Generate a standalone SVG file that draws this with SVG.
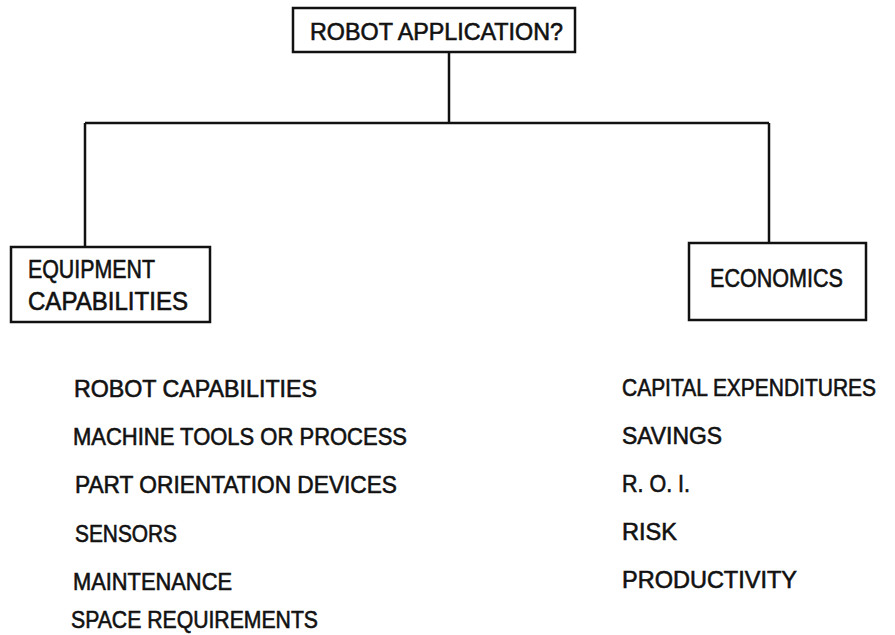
<svg xmlns="http://www.w3.org/2000/svg" width="895" height="635" viewBox="0 0 895 635">
<style>
.box{fill:#fff;stroke:#111;stroke-width:2.5}
.conn{fill:none;stroke:#111;stroke-width:2.5}
text{font-family:"Liberation Sans","DejaVu Sans",sans-serif;fill:#111;stroke:#111;stroke-width:0.6;font-size:24px}
.lbl{font-size:25px}
</style>
<rect width="895" height="635" fill="#fff"/>
<g id="connectors">
<path class="conn" d="M449,52 V123 M85,123 H769 M85,123 V247 M769,123 V243"/>
</g>
<g id="node-robot-application">
<rect class="box" x="293" y="8" width="282" height="44"/>
<text x="310" y="40" textLength="253" lengthAdjust="spacingAndGlyphs">ROBOT APPLICATION?</text>
</g>
<g id="node-equipment">
<rect class="box" x="11" y="247" width="199" height="75"/>
<text class="lbl" x="28" y="278" textLength="127" lengthAdjust="spacingAndGlyphs">EQUIPMENT</text>
<text class="lbl" x="28" y="310" textLength="160" lengthAdjust="spacingAndGlyphs">CAPABILITIES</text>
</g>
<g id="node-economics">
<rect class="box" x="689" y="243" width="177" height="77"/>
<text class="lbl" x="710" y="287" textLength="133" lengthAdjust="spacingAndGlyphs">ECONOMICS</text>
</g>
<g id="equipment-list">
<text x="74" y="397" textLength="243" lengthAdjust="spacingAndGlyphs">ROBOT CAPABILITIES</text>
<text x="73" y="445" textLength="334" lengthAdjust="spacingAndGlyphs">MACHINE TOOLS OR PROCESS</text>
<text x="75" y="493" textLength="322" lengthAdjust="spacingAndGlyphs">PART ORIENTATION DEVICES</text>
<text x="75" y="542" textLength="102" lengthAdjust="spacingAndGlyphs">SENSORS</text>
<text x="73" y="590" textLength="159" lengthAdjust="spacingAndGlyphs">MAINTENANCE</text>
<text x="71" y="628" textLength="247" lengthAdjust="spacingAndGlyphs">SPACE REQUIREMENTS</text>
</g>
<g id="economics-list">
<text x="622" y="396" font-size="22.5" textLength="254" lengthAdjust="spacingAndGlyphs">CAPITAL EXPENDITURES</text>
<text x="622" y="444" textLength="100" lengthAdjust="spacingAndGlyphs">SAVINGS</text>
<text x="622" y="492" textLength="68" lengthAdjust="spacingAndGlyphs">R. O. I.</text>
<text x="622" y="540" textLength="55" lengthAdjust="spacingAndGlyphs">RISK</text>
<text x="622" y="588" textLength="175" lengthAdjust="spacingAndGlyphs">PRODUCTIVITY</text>
</g>
</svg>
